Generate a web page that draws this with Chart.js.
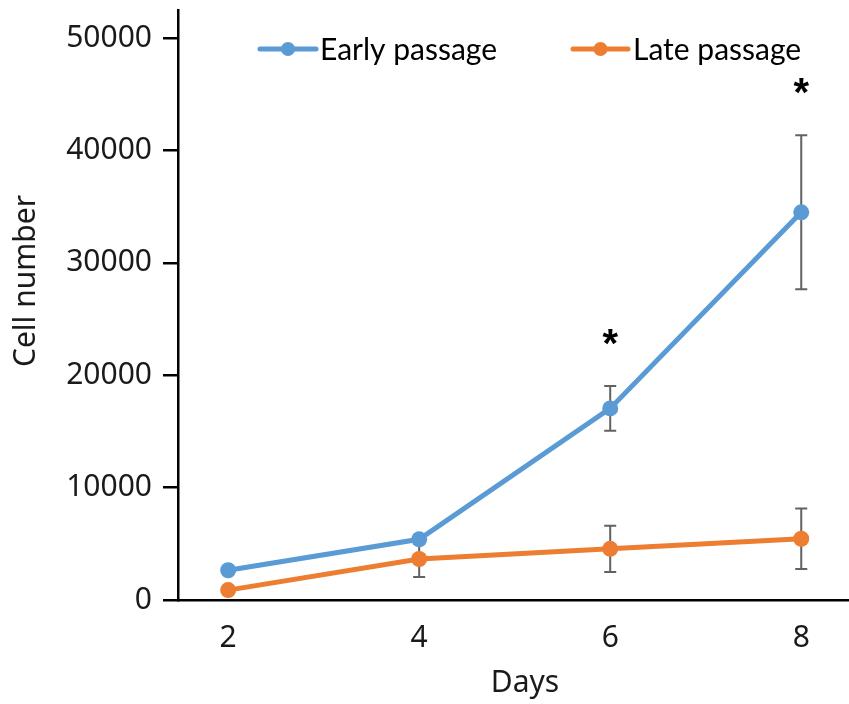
<!DOCTYPE html>
<html>
<head>
<meta charset="utf-8">
<script src="https://cdn.jsdelivr.net/npm/chart.js@4/dist/chart.umd.min.js"></script>
<style>
  html, body { margin: 0; padding: 0; background: #fff; }
  canvas { display: block; }
</style>
</head>
<body>
<canvas id="growth" width="849" height="704"></canvas>
<script>
// Cell growth over time: early vs late passage (mean ± error)
const days = [2, 4, 6, 8];
const earlyPassage = [2650, 5400, 17050, 34500];
const earlyError = [300, 400, 2000, 6850];
const latePassage = [880, 3650, 4550, 5450];
const lateError = [300, 1600, 2050, 2700];
const significant = [false, false, true, true]; // marked with "*"
const yTicks = [0, 10000, 20000, 30000, 40000, 50000];

const BLUE = '#5B9BD5';
const ORANGE = '#ED7D31';
const AXIS_FONT = '"Noto Sans", sans-serif';

const toPoints = vals => days.map((d, i) => ({ x: d, y: vals[i] }));

// Keep the plot area fixed: no extra room reserved for edge tick labels
const noEdgePadding = s => {
  s.paddingTop = 0; s.paddingBottom = 0; s.paddingLeft = 0; s.paddingRight = 0;
};

// Vertical error bars with caps, drawn beneath the lines and markers
const errorBars = {
  id: 'errorBars',
  beforeDatasetsDraw(chart) {
    const { ctx, scales: { x, y } } = chart;
    ctx.save();
    ctx.strokeStyle = '#626262';
    ctx.lineWidth = 2;
    chart.data.datasets.forEach(ds => {
      ds.data.forEach((p, i) => {
        const e = ds.errors[i];
        const px = x.getPixelForValue(p.x);
        const top = y.getPixelForValue(p.y + e);
        const bot = y.getPixelForValue(p.y - e);
        ctx.beginPath();
        ctx.moveTo(px, top); ctx.lineTo(px, bot);
        ctx.moveTo(px - 6, top); ctx.lineTo(px + 6, top);
        ctx.moveTo(px - 6, bot); ctx.lineTo(px + 6, bot);
        ctx.stroke();
      });
    });
    ctx.restore();
  }
};

// Significance stars above the upper error bar of the early-passage series
const stars = {
  id: 'stars',
  afterDatasetsDraw(chart) {
    const { ctx, scales: { x, y } } = chart;
    ctx.save();
    ctx.fillStyle = '#000';
    ctx.font = 'bold 40px "Liberation Sans", sans-serif';
    ctx.textAlign = 'center';
    ctx.textBaseline = 'alphabetic';
    days.forEach((d, i) => {
      if (!significant[i]) return;
      const px = x.getPixelForValue(d);
      const top = y.getPixelForValue(earlyPassage[i] + earlyError[i]);
      ctx.fillText('*', px, top - 49 + 20);
    });
    ctx.restore();
  }
};

// Legend row and axis titles
const decorations = {
  id: 'decorations',
  afterDraw(chart) {
    const { ctx } = chart;
    ctx.save();
    const items = [
      { ds: chart.data.datasets[0], x0: 260, x1: 316, tx: 320 },
      { ds: chart.data.datasets[1], x0: 573, x1: 628, tx: 633 }
    ];
    items.forEach(it => {
      const ly = 49;
      ctx.strokeStyle = it.ds.borderColor;
      ctx.lineWidth = 5;
      ctx.lineCap = 'round';
      ctx.beginPath();
      ctx.moveTo(it.x0, ly); ctx.lineTo(it.x1, ly);
      ctx.stroke();
      ctx.fillStyle = it.ds.borderColor;
      ctx.beginPath();
      ctx.arc((it.x0 + it.x1) / 2, ly, 7, 0, Math.PI * 2);
      ctx.fill();
      ctx.fillStyle = '#000';
      ctx.font = '30px Lato, sans-serif';
      ctx.textAlign = 'left';
      ctx.textBaseline = 'alphabetic';
      ctx.fillText(it.ds.label, it.tx, 60);
    });

    ctx.fillStyle = '#1a1a1a';
    ctx.font = '30px ' + AXIS_FONT;
    ctx.textAlign = 'center';
    ctx.textBaseline = 'alphabetic';
    ctx.fillText('Days', 525, 692);

    ctx.translate(35, 281);
    ctx.rotate(-Math.PI / 2);
    ctx.fillText('Cell number', 0, 0);
    ctx.restore();
  }
};

new Chart(document.getElementById('growth'), {
  type: 'line',
  data: {
    datasets: [
      {
        label: 'Early passage',
        data: toPoints(earlyPassage),
        errors: earlyError,
        borderColor: BLUE,
        backgroundColor: BLUE,
        pointBackgroundColor: BLUE,
        borderWidth: 5,
        pointRadius: 8,
        pointBorderWidth: 0,
        tension: 0
      },
      {
        label: 'Late passage',
        data: toPoints(latePassage),
        errors: lateError,
        borderColor: ORANGE,
        backgroundColor: ORANGE,
        pointBackgroundColor: ORANGE,
        borderWidth: 5,
        pointRadius: 8,
        pointBorderWidth: 0,
        tension: 0
      }
    ]
  },
  options: {
    responsive: false,
    animation: false,
    layout: { autoPadding: false, padding: { top: 10, right: 0, left: 0, bottom: 0 } },
    plugins: {
      legend: { display: false },
      tooltip: { enabled: false }
    },
    scales: {
      x: {
        type: 'linear',
        min: 1.475,
        max: 8.5,
        afterBuildTicks: s => { s.ticks = days.map(v => ({ value: v })); },
        afterFit: s => { s.height = 104; noEdgePadding(s); },
        grid: { display: true, drawOnChartArea: false, drawTicks: false, color: 'rgba(0,0,0,0)' },
        border: { display: true, color: '#000', width: 2.5 },
        ticks: {
          padding: 20,
          color: '#1a1a1a',
          font: { family: AXIS_FONT, size: 30 },
          maxRotation: 0
        }
      },
      y: {
        min: 0,
        max: 52500,
        afterBuildTicks: s => { s.ticks = yTicks.map(v => ({ value: v })); },
        afterFit: s => { s.width = 178; noEdgePadding(s); },
        grid: { display: true, drawOnChartArea: false, drawTicks: true, tickLength: 15, color: '#000', lineWidth: 2.5 },
        border: { display: true, color: '#000', width: 2.5 },
        ticks: {
          padding: 11,
          color: '#1a1a1a',
          font: { family: AXIS_FONT, size: 30 },
          callback: v => String(v)
        }
      }
    }
  },
  plugins: [errorBars, stars, decorations]
});
</script>
</body>
</html>
